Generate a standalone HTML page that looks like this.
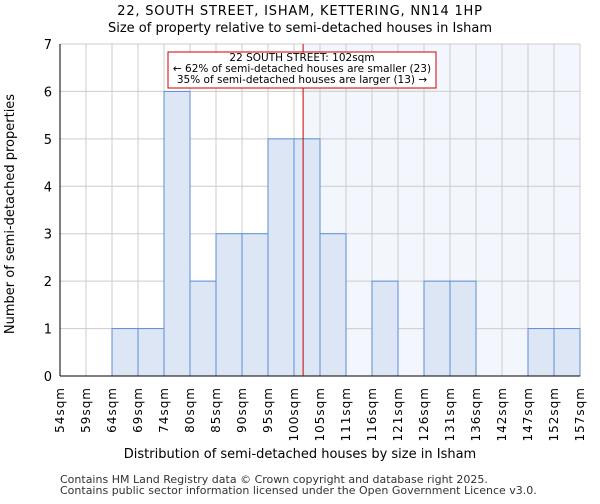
<!DOCTYPE html>
<html><head><meta charset="utf-8"><style>
body{margin:0;background:#fff;font-family:"DejaVu Sans","Liberation Sans",sans-serif}
</style></head><body>
<svg id="c" width="600" height="500" xmlns="http://www.w3.org/2000/svg" font-family="DejaVu Sans, Liberation Sans, sans-serif">
<text x="300" y="15" text-anchor="middle" font-size="13" letter-spacing="0.8">22, SOUTH STREET, ISHAM, KETTERING, NN14 1HP</text>
<text x="300" y="32" text-anchor="middle" font-size="13">Size of property relative to semi-detached houses in Isham</text>
<g id="plot"></g>
<text x="300" y="458" text-anchor="middle" font-size="13">Distribution of semi-detached houses by size in Isham</text>
<text transform="translate(14,214) rotate(-90)" text-anchor="middle" font-size="13">Number of semi-detached properties</text>
<text x="60" y="483" font-size="11" fill="#333">Contains HM Land Registry data © Crown copyright and database right 2025.</text>
<text x="60" y="494" font-size="11" fill="#333">Contains public sector information licensed under the Open Government Licence v3.0.</text>
</svg>
<script>
const binLabels=["54sqm","59sqm","64sqm","69sqm","74sqm","80sqm","85sqm","90sqm","95sqm","100sqm","105sqm","111sqm","116sqm","121sqm","126sqm","131sqm","136sqm","142sqm","147sqm","152sqm","157sqm"];
const counts=[0,0,1,1,6,2,3,3,5,5,3,0,2,0,2,2,0,0,1,1];
const yTicks=[0,1,2,3,4,5,6,7];
const subjectSize=102;
const subjectBinIndex=9;
const subjectFrac=0.35;
const annotation=["22 SOUTH STREET: 102sqm","← 62% of semi-detached houses are smaller (23)","35% of semi-detached houses are larger (13) →"];
const L=60,R=580,T=44,B=376,yMax=7;
const bw=(R-L)/counts.length;
const x=i=>L+i*bw;
const y=v=>B-(B-T)*v/yMax;
const NS="http://www.w3.org/2000/svg";
const g=document.getElementById('plot');
function mk(t,a){const e=document.createElementNS(NS,t);for(const k in a)e.setAttribute(k,a[k]);g.appendChild(e);return e;}
const sx=x(subjectBinIndex+subjectFrac);
let e=mk('rect',{x:sx,y:T,width:R-sx,height:B-T,fill:'#f3f6fd'});


for(let i=0;i<=counts.length;i++){e=mk('line',{x1:x(i),x2:x(i),y1:T,y2:B,stroke:'#ccc'});

}
yTicks.forEach(v=>{e=mk('line',{x1:L,x2:R,y1:y(v),y2:y(v),stroke:'#ccc'});


e=mk('text',{x:L-8,y:y(v)+5,'text-anchor':'end','font-size':13});e.textContent=v;

});
counts.forEach((c,i)=>{if(c>0){e=mk('rect',{x:x(i),y:y(c),width:bw,height:y(0)-y(c),fill:'#dce6f4',stroke:'#5b8fd6','stroke-width':1});

}});
binLabels.forEach((l,i)=>{e=mk('text',{transform:`translate(${x(i)+4},${B+11}) rotate(-90)`,'text-anchor':'end','font-size':12,'letter-spacing':1});e.textContent=l;

});
e=mk('line',{x1:L,x2:L,y1:T,y2:B,stroke:'#000'});


e=mk('line',{x1:L,x2:R,y1:B,y2:B,stroke:'#000'});


e=mk('line',{x1:sx,x2:sx,y1:T,y2:B,stroke:'#c00','stroke-width':1});


e=mk('rect',{x:168,y:52,width:268,height:36,fill:'#fff',stroke:'#c00'});


annotation.forEach((t,i)=>{e=mk('text',{x:302,y:61+i*11,'text-anchor':'middle','font-size':10.5});e.textContent=t;

});
</script>
</body></html>
